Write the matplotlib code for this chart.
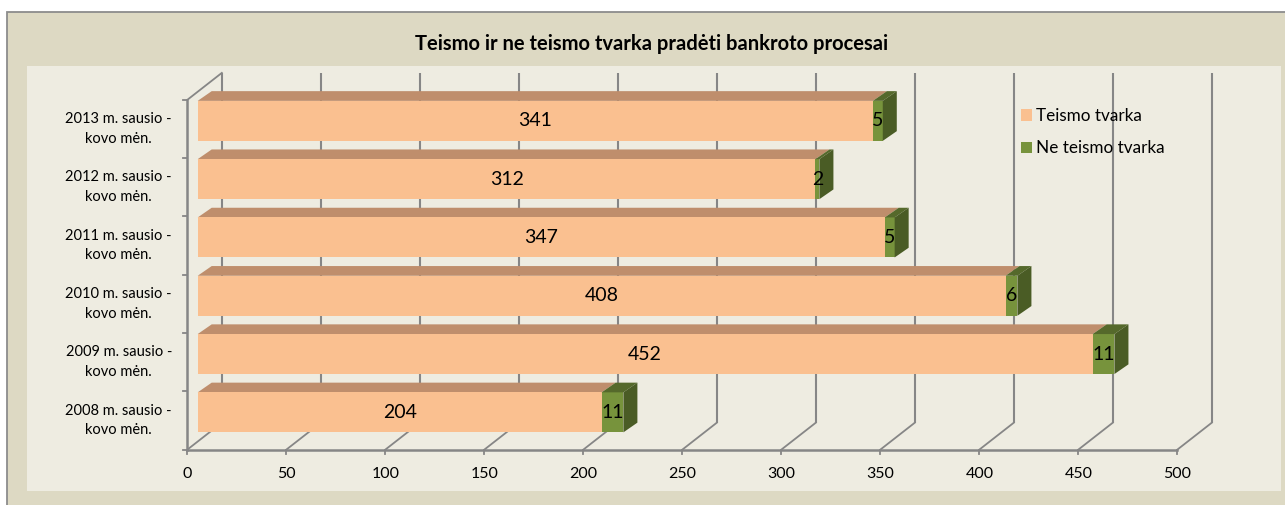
import numpy as np
import matplotlib
matplotlib.use('Agg')
import matplotlib.pyplot as plt
from matplotlib.patches import Rectangle, Polygon, Patch

plt.rcParams['font.family'] = ['Lato', 'DejaVu Sans']

# data
categories = ['2008 m. sausio -\nkovo mėn.', '2009 m. sausio -\nkovo mėn.', '2010 m. sausio -\nkovo mėn.',
              '2011 m. sausio -\nkovo mėn.', '2012 m. sausio -\nkovo mėn.', '2013 m. sausio -\nkovo mėn.']
teismo = [204, 452, 408, 347, 312, 341]
ne_teismo = [11, 11, 6, 5, 2, 5]
xticks = [0, 50, 100, 150, 200, 250, 300, 350, 400, 450, 500]
title = 'Teismo ir ne teismo tvarka pradėti bankroto procesai'

# layout (pixels of the 1285x505 picture)
W, H = 1285, 505
PX_VAL = 1.98          # px per value unit
X0 = 187.5             # px of value 0 on the front floor
CAT = 58.3             # px per category
Y0 = 449.5             # px (from top) of the front floor

DX = 34.3 / PX_VAL     # depth of the wall/floor
DY = 26.8 / CAT
BX = 10.2 / PX_VAL     # bar front face offset
BY = 8.0 / CAT
BH = 40.0 / CAT        # bar height
BDX = 14.0 / PX_VAL    # bar depth
BDY = 9.7 / CAT

grid_c = '#868686'
or_front, or_top = '#FAC090', '#BF8E6C'
gr_front, gr_top, gr_side = '#77933C', '#55692B', '#4A5C25'

fig = plt.figure(figsize=(W / 100, H / 100), dpi=100)
fig.patch.set_facecolor('white')

def fx(px):
    return px / W

def fy(py):
    return 1 - py / H

# outer chart area and plot area
fig.patches.append(Rectangle((fx(7), fy(510)), fx(1290) - fx(7), fy(12) - fy(510),
                             transform=fig.transFigure, facecolor='#DDD9C3',
                             edgecolor='#8C8C8C', linewidth=1.3, zorder=-3))
fig.patches.append(Rectangle((fx(27), fy(491)), fx(1281) - fx(27), fy(66) - fy(491),
                             transform=fig.transFigure, facecolor='#EEECE1',
                             edgecolor='none', zorder=-2))

ax = fig.add_axes([0, 0, 1, 1])
ax.set_xlim(-X0 / PX_VAL, (W - X0) / PX_VAL)
ax.set_ylim((Y0 - H) / CAT, Y0 / CAT)
ax.axis('off')

n = len(categories)
top = n

# walls, floor and gridlines
for v in xticks:
    ax.plot([v + DX, v + DX], [DY, top + DY], color=grid_c, lw=1.5, zorder=1, solid_capstyle='butt')
    ax.plot([v, v + DX], [0, DY], color=grid_c, lw=1.3, zorder=1)
    ax.plot([v, v], [0, -4 / CAT], color=grid_c, lw=1.3, zorder=1)
    ax.text(v, -24.5 / CAT, str(v), ha='center', va='center', fontsize=11.5, color='black')
ax.plot([0, xticks[-1]], [0, 0], color=grid_c, lw=1.8, zorder=1)
ax.plot([0, 0], [0, top], color=grid_c, lw=1.8, zorder=1)
ax.plot([0, DX], [top, top + DY], color=grid_c, lw=1.3, zorder=1)
for i in range(n + 1):
    ax.plot([-4 / PX_VAL, 0], [i, i], color=grid_c, lw=1.3, zorder=1)

# bars
for i in range(n):
    yb = i + 0.5 + BY - BH / 2
    yt = yb + BH
    x0 = BX
    x1 = BX + teismo[i]
    x2 = x1 + ne_teismo[i]
    ax.barh(yb, teismo[i], height=BH, left=x0, align='edge', color=or_front, zorder=3)
    ax.barh(yb, ne_teismo[i], height=BH, left=x1, align='edge', color=gr_front, zorder=3)
    ax.add_patch(Polygon([(x0, yt), (x1, yt), (x1 + BDX, yt + BDY), (x0 + BDX, yt + BDY)],
                         closed=True, facecolor=or_top, edgecolor='none', zorder=2))
    ax.add_patch(Polygon([(x1, yt), (x2, yt), (x2 + BDX, yt + BDY), (x1 + BDX, yt + BDY)],
                         closed=True, facecolor=gr_top, edgecolor='none', zorder=3))
    ax.add_patch(Polygon([(x2, yb), (x2, yt), (x2 + BDX, yt + BDY), (x2 + BDX, yb + BDY)],
                         closed=True, facecolor=gr_side, edgecolor='none', zorder=3))
    ym = (yb + yt) / 2
    ax.text((x0 + x1) / 2, ym, str(teismo[i]), ha='center', va='center', fontsize=14, zorder=5)
    ax.text((x1 + x2) / 2, ym, str(ne_teismo[i]), ha='center', va='center', fontsize=14, zorder=5)
    ax.text(-15.5 / PX_VAL, i + 0.5, categories[i], ha='right', va='center',
            multialignment='center', fontsize=10.5, linespacing=1.5)

fig.text(fx(652), fy(44), title, ha='center', va='center', fontsize=14.5, fontweight='bold')

handles = [Patch(facecolor=or_front, edgecolor='none'), Patch(facecolor=gr_front, edgecolor='none')]
fig.legend(handles, ['Teismo tvarka', 'Ne teismo tvarka'], loc='upper left',
           bbox_to_anchor=(fx(1021), fy(108)), frameon=False, fontsize=12.3,
           handlelength=0.65, handleheight=0.65, handletextpad=0.25, labelspacing=0.95,
           borderaxespad=0, borderpad=0)

fig.savefig('out.png', dpi=100, facecolor=fig.get_facecolor())
